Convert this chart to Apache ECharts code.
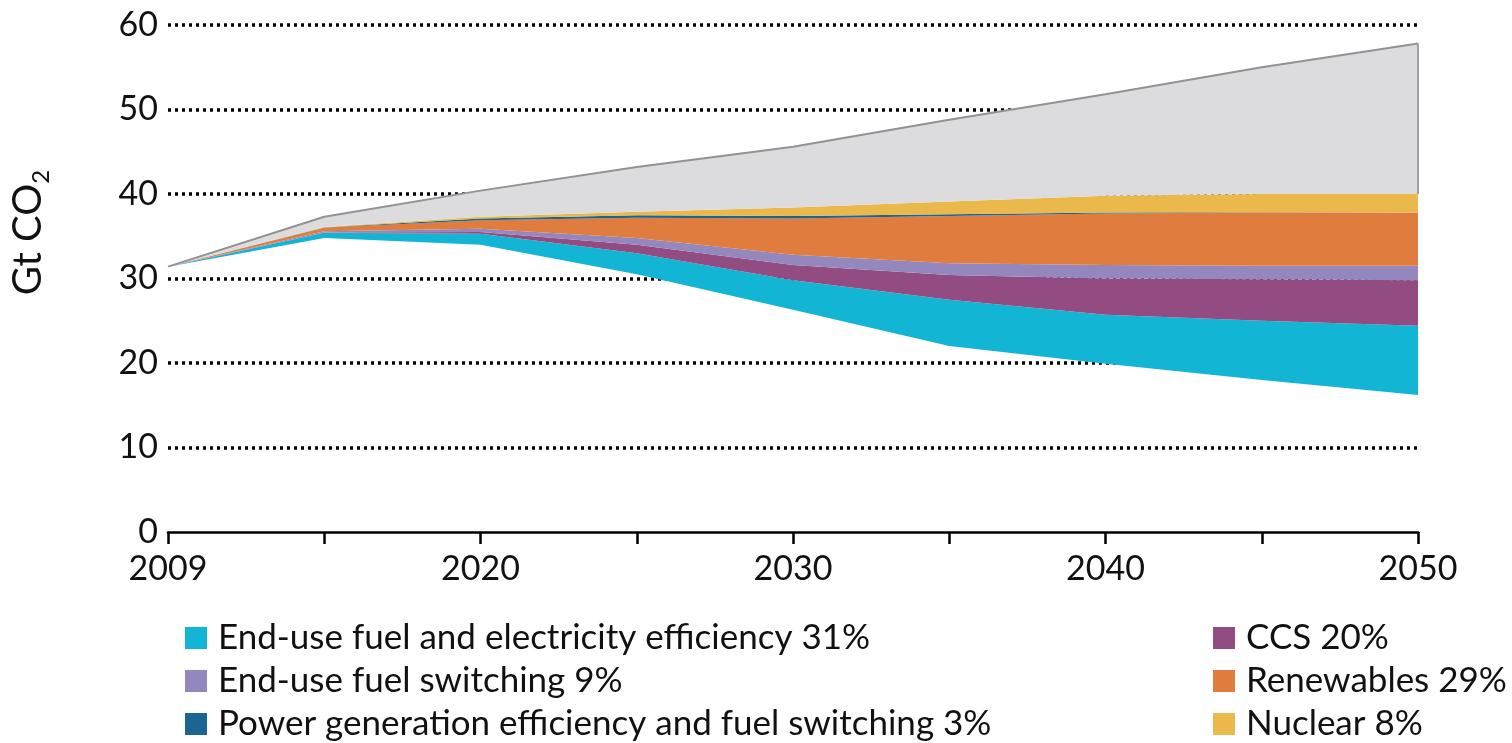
<!DOCTYPE html>
<html>
<head>
<meta charset="utf-8">
<script src="https://cdn.jsdelivr.net/npm/echarts@6/dist/echarts.min.js"></script>
<style>
html,body{margin:0;padding:0;background:#fff;}
#chart{width:1512px;height:743px;}
</style>
</head>
<body>
<div id="chart"></div>
<script>
// Categories (x axis)
var years = ['2009','2015','2020','2025','2030','2035','2040','2045','2050'];
var shownYears = ['2009','2020','2030','2040','2050'];
// Y tick range
var yTicks = [0,10,20,30,40,50,60];

// Stacked layers, Gt CO2 (bottom to top)
var remaining      = [31.4, 34.8, 34.0, 30.5, 26.3, 22.0, 19.9, 18.0, 16.2];
var endUseEff      = [0, 0.6, 1.3, 2.5, 3.5, 5.5, 5.8, 7.0, 8.2];
var ccs            = [0, 0.05, 0.2, 1.0, 1.8, 2.9, 4.3, 4.9, 5.4];
var fuelSwitching  = [0, 0.15, 0.4, 0.8, 1.2, 1.4, 1.6, 1.6, 1.7];
var renewables     = [0, 0.4, 1.0, 2.4, 4.3, 5.6, 6.1, 6.3, 6.3];
var powerGen       = [0, 0.05, 0.2, 0.3, 0.3, 0.2, 0.1, 0.05, 0.05];
var nuclear        = [0, 0.05, 0.2, 0.4, 1.0, 1.5, 2.0, 2.15, 2.15];
var baselineExtra  = [0, 1.2, 3.1, 5.3, 7.2, 9.7, 12.0, 15.0, 17.8];

var names = {
  eff: 'End-use fuel and electricity efficiency 31%',
  sw: 'End-use fuel switching 9%',
  pg: 'Power generation efficiency and fuel switching 3%',
  ccs: 'CCS 20%',
  ren: 'Renewables 29%',
  nuc: 'Nuclear 8%'
};
var colors = {
  eff: '#13b5d5',
  sw: '#9387bd',
  pg: '#1b6593',
  ccs: '#924c81',
  ren: '#e07d3e',
  nuc: '#ebb84c',
  gray: '#dcdcde'
};

// right edge of the grey band, derived from the stacked arrays
var last = years.length - 1;
var greyBottom = [remaining, endUseEff, ccs, fuelSwitching, renewables, powerGen, nuclear]
  .reduce(function (s, a) { return s + a[last]; }, 0);
var greyTop = greyBottom + baselineExtra[last];

function layer(name, data, color, extra) {
  var s = {
    name: name, type: 'line', stack: 'total', data: data,
    symbol: 'none', smooth: false,
    lineStyle: { width: 0 },
    areaStyle: { color: color, opacity: 1 },
    itemStyle: { color: color },
    emphasis: { disabled: true }
  };
  if (extra) Object.assign(s, extra);
  return s;
}

var chart = echarts.init(document.getElementById('chart'));
var font = 'Lato';
var legendText = { fontFamily: font, fontSize: 35, color: '#111', lineHeight: 36, padding: [0, 0, 0, 6] };
chart.setOption({
  animation: false,
  backgroundColor: '#fff',
  grid: { left: 167, right: 94, top: 25, bottom: 211, containLabel: false },
  legend: [{
    orient: 'vertical', left: 185, top: 620, padding: 0,
    icon: 'rect', itemWidth: 22, itemHeight: 22, itemGap: 7,
    textStyle: legendText,
    data: [names.eff, names.sw, names.pg]
  }, {
    orient: 'vertical', left: 1213, top: 620, padding: 0,
    icon: 'rect', itemWidth: 22, itemHeight: 22, itemGap: 7,
    textStyle: legendText,
    data: [names.ccs, names.ren, names.nuc]
  }],
  xAxis: {
    type: 'category', data: years, boundaryGap: false,
    axisLine: { show: true, lineStyle: { color: '#000', width: 2.5 } },
    axisTick: { show: true, length: 12, inside: false, alignWithLabel: true, interval: 0, lineStyle: { color: '#000', width: 2.5 } },
    axisLabel: {
      margin: 20, fontFamily: font, fontSize: 34, color: '#111',
      interval: function (i, v) { return shownYears.indexOf(v) >= 0; }
    },
    splitLine: { show: false }
  },
  yAxis: {
    type: 'value', min: yTicks[0], max: yTicks[yTicks.length - 1], interval: 10,
    axisLine: { show: false }, axisTick: { show: false },
    axisLabel: { margin: 10, fontFamily: font, fontSize: 34, color: '#111' },
    splitLine: { show: true, showMinLine: false, lineStyle: { color: '#000', width: 3.5, type: [3, 4] } },
    name: '{a|Gt CO}{b|2}',
    nameLocation: 'middle', nameRotate: 90, nameGap: 115,
    nameTextStyle: {
      padding: [0, 0, 0, 92],
      rich: {
        a: { fontFamily: font, fontSize: 40, color: '#111' },
        b: { fontFamily: font, fontSize: 24, color: '#111', verticalAlign: 'bottom', padding: [26, 0, 0, 0] }
      }
    }
  },
  series: [
    layer('remaining', remaining, 'rgba(0,0,0,0)', { areaStyle: { opacity: 0 }, legendHoverLink: false }),
    layer(names.eff, endUseEff, colors.eff),
    layer(names.ccs, ccs, colors.ccs),
    layer(names.sw, fuelSwitching, colors.sw),
    layer(names.ren, renewables, colors.ren),
    layer(names.pg, powerGen, colors.pg),
    layer(names.nuc, nuclear, colors.nuc),
    layer('baseline', baselineExtra, colors.gray, {
      lineStyle: { width: 2, color: '#929292' },
      markLine: {
        silent: true, symbol: 'none', label: { show: false },
        lineStyle: { color: '#a0a0a0', width: 2, type: 'solid' },
        data: [[{ coord: [years[last], greyBottom] }, { coord: [years[last], greyTop] }]]
      }
    })
  ]
});
</script>
</body>
</html>
